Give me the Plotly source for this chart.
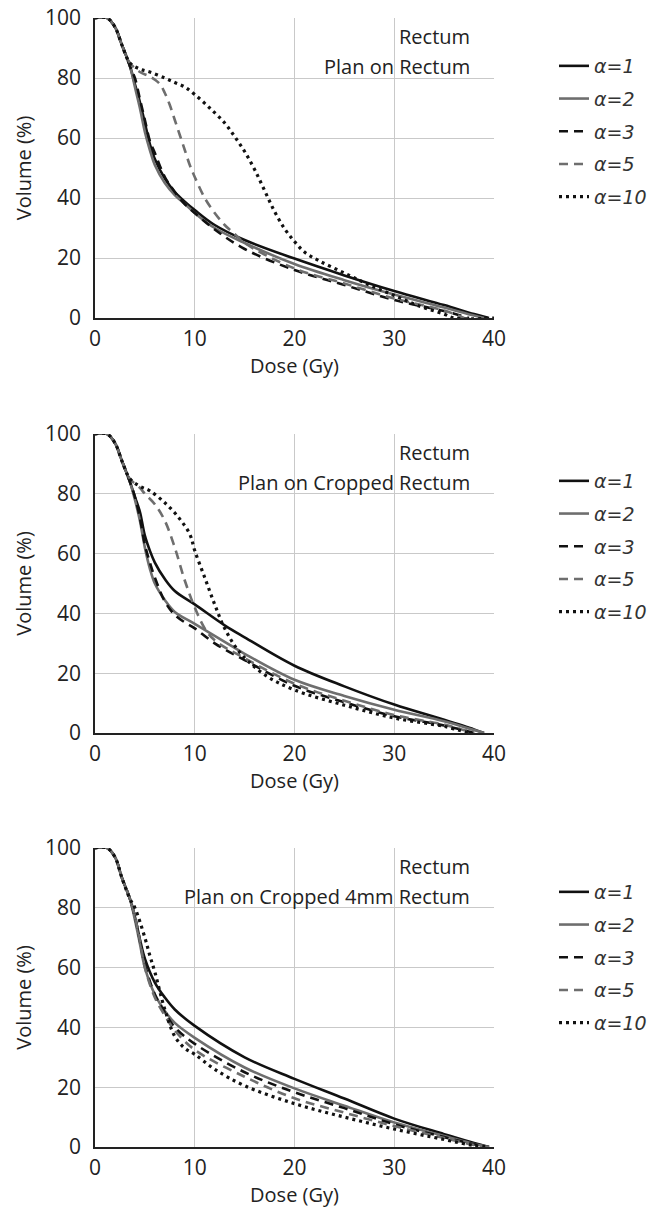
import plotly.graph_objects as go

# ---------------- data ----------------
series_names = ["α=1", "α=2", "α=3", "α=5", "α=10"]
panel_titles = ["Plan on Rectum", "Plan on Cropped Rectum", "Plan on Cropped 4mm Rectum"]
organ = "Rectum"
x_ticks = [0, 10, 20, 30, 40]
y_ticks = [0, 20, 40, 60, 80, 100]

# Panel 1: Plan on Rectum
p1_a1_dose = [0, 1.2, 2, 2.7, 3.5, 4, 4.5, 5, 5.5, 6, 7, 8, 9, 10, 12, 15, 20, 25, 30, 35, 38, 39.5]
p1_a1_vol = [100, 100, 97, 91, 84, 78, 72, 65, 58, 53, 46.5, 42, 38.8, 36, 31, 26, 19.8, 14.2, 9, 4.3, 1.3, 0]
p1_a2_dose = [0, 1.2, 2, 2.7, 3.5, 4, 4.5, 5, 5.5, 6, 7, 8, 9, 10, 12, 15, 20, 25, 30, 35, 38, 39]
p1_a2_vol = [100, 100, 97, 91, 84, 77, 70, 62, 56, 51, 45, 41, 38, 35, 30, 25, 18, 12.6, 7.8, 3.5, 0.8, 0]
p1_a3_dose = [0, 1.2, 2, 2.7, 3.5, 4, 4.5, 5, 5.5, 6, 7, 8, 9, 10, 12, 15, 20, 25, 30, 35, 37.5]
p1_a3_vol = [100, 100, 97, 91, 84, 80, 73, 66, 59, 55, 47, 42, 38, 35, 29.5, 23, 16, 11, 6, 2.3, 0]
p1_a5_dose = [0, 1.2, 2, 2.7, 3.5, 4.5, 5.5, 6.5, 7, 7.5, 8, 8.5, 9, 9.5, 10, 11, 12, 13, 14, 15, 20, 25, 30, 35, 37]
p1_a5_vol = [100, 100, 97, 91, 85, 82, 80.5, 78, 75, 71, 66, 61, 56, 51, 47, 40, 35, 31, 28, 25, 16.5, 11.5, 6.5, 2.5, 0]
p1_a10_dose = [0, 1.2, 2, 2.7, 3.5, 4.5, 5.5, 7, 8, 9, 10, 11.5, 13, 14, 15, 16, 17, 18, 19, 20, 21, 22.5, 25, 27.5, 30, 32.5, 35, 36, 40]
p1_a10_vol = [100, 100, 97, 91, 85, 83, 82, 80, 78.5, 77, 74.5, 70, 65, 60.5, 55.5, 49.5, 42.5, 35.5, 29.8, 25.5, 22, 19, 15, 11, 7.5, 4, 1.3, 0, 0]

# Panel 2: Plan on Cropped Rectum
p2_a1_dose = [0, 1.2, 2, 2.7, 3.5, 4, 4.5, 5, 5.5, 6, 7, 8, 10, 13, 15, 20, 25, 30, 35, 38, 39]
p2_a1_vol = [100, 100, 97, 91, 84, 79, 74, 66, 61, 57, 51.5, 47.5, 43, 36, 32, 22.5, 15.6, 9.5, 4.4, 1.2, 0]
p2_a2_dose = [0, 1.2, 2, 2.7, 3.5, 4, 4.5, 5, 5.5, 6, 7, 8, 10, 13, 15, 20, 25, 30, 35, 38, 39]
p2_a2_vol = [100, 100, 97, 91, 84, 78, 71, 62, 55, 50, 44.5, 40.5, 36.5, 30.5, 26.5, 17.8, 12.4, 7.8, 3.9, 1, 0]
p2_a3_dose = [0, 1.2, 2, 2.7, 3.5, 4, 4.5, 5, 5.5, 6, 7, 8, 9, 10, 12, 15, 20, 25, 30, 35, 38]
p2_a3_vol = [100, 100, 97, 91, 84, 79, 72, 63, 57, 52, 44, 39.5, 37, 35, 30, 24.4, 15.8, 10.3, 5.6, 2.5, 0]
p2_a5_dose = [0, 1.2, 2, 2.7, 3.5, 4.5, 5, 6, 7, 8, 9, 10, 11, 12, 15, 20, 25, 30, 35, 38]
p2_a5_vol = [100, 100, 97, 91, 85, 82, 80, 76.5, 71, 62, 51, 42, 35, 31, 25, 16.5, 10.8, 6, 2.8, 0]
p2_a10_dose = [0, 1.2, 2, 2.7, 3.5, 4.5, 5.5, 7, 8.4, 9.5, 10, 11, 12, 13, 14.5, 17, 20, 25, 30, 35, 37.5]
p2_a10_vol = [100, 100, 97, 91, 85, 82.5, 81, 77, 72, 66.5, 61, 52, 43, 35, 27, 19.5, 14.4, 9.3, 5, 2.2, 0]

# Panel 3: Plan on Cropped 4mm Rectum
p3_dose = [0, 1.2, 2, 2.7, 3.5, 4, 4.5, 5, 6, 7, 8, 10, 15, 20, 25, 30, 35, 38, 39.5]
p3_a1_vol = [100, 100, 97, 90, 83, 77, 69.5, 63, 55, 50, 46, 40.5, 30, 22.8, 16.2, 9.5, 4.3, 1.3, 0]
p3_a2_vol = [100, 100, 97, 90, 83, 76, 68, 60, 51, 45.5, 41.5, 36.5, 26.6, 19.6, 13.8, 8.2, 3.7, 1, 0]
p3_a3_vol = [100, 100, 97, 90, 83, 77, 69, 61, 51, 45, 40, 34.5, 25, 18.3, 13, 7.6, 3.3, 0.9, 0]
p3_a5_vol = [100, 100, 97, 90, 83, 77, 69, 60, 50, 44, 39, 32.5, 23.5, 16.3, 11.5, 7, 3, 0.7, 0]
p3_a10_dose = [0, 1.2, 2, 2.7, 3.5, 4, 5, 5.5, 6, 7, 8, 9, 10, 12, 15, 20, 25, 30, 35, 38, 39.5]
p3_a10_vol = [100, 100, 97, 90, 83, 80, 70, 64, 58.5, 46, 37, 33, 31, 26, 20.5, 14.5, 10, 6, 2.5, 0.5, 0]

panels = [
    [(p1_a1_dose, p1_a1_vol), (p1_a2_dose, p1_a2_vol), (p1_a3_dose, p1_a3_vol),
     (p1_a5_dose, p1_a5_vol), (p1_a10_dose, p1_a10_vol)],
    [(p2_a1_dose, p2_a1_vol), (p2_a2_dose, p2_a2_vol), (p2_a3_dose, p2_a3_vol),
     (p2_a5_dose, p2_a5_vol), (p2_a10_dose, p2_a10_vol)],
    [(p3_dose, p3_a1_vol), (p3_dose, p3_a2_vol), (p3_dose, p3_a3_vol),
     (p3_dose, p3_a5_vol), (p3_a10_dose, p3_a10_vol)],
]

# ---------------- styles ----------------
styles = [
    dict(color="#111111", dash="solid", width=2.6),
    dict(color="#6e6e6e", dash="solid", width=2.6),
    dict(color="#111111", dash="9px,6px", width=2.6),
    dict(color="#6e6e6e", dash="9px,6px", width=2.6),
    dict(color="#111111", dash="3px,4px", width=3.2),
]

W, H = 664, 1209
x0_px, x1_px = 95, 494
panel_px = [(18, 318), (434, 733), (848, 1147)]
legend_top_px = [47, 462, 873]

fig = go.Figure()
font_main = "Open Sans, Noto Sans, sans-serif"
txt_color = "#222222"

for p, series in enumerate(panels):
    sfx = "" if p == 0 else str(p + 1)
    leg = "legend" + sfx
    for i, (d, v) in enumerate(series):
        st = styles[i]
        fig.add_trace(go.Scatter(
            x=d, y=v, mode="lines", name=series_names[i],
            line=dict(color=st["color"], dash=st["dash"], width=st["width"],
                      shape="spline", smoothing=1.0),
            xaxis="x" + sfx, yaxis="y" + sfx, legend=leg,
            legendgroup=f"p{p}_{i}", showlegend=True,
        ))
    top, bot = panel_px[p]
    axis_common = dict(
        showgrid=True, gridcolor="#c9c9c9", gridwidth=1,
        showline=True, linecolor="#222222", linewidth=1.6,
        ticks="", zeroline=False, automargin=False,
        tickfont=dict(family=font_main, size=21, color=txt_color),
    )
    fig.layout["xaxis" + sfx] = dict(
        domain=[x0_px / W, x1_px / W], range=[0, 40], tickvals=x_ticks,
        anchor="y" + sfx, fixedrange=True, ticklabelstandoff=1,
        title=dict(text="Dose (Gy)", font=dict(family=font_main, size=20, color=txt_color), standoff=4),
        **axis_common,
    )
    fig.layout["yaxis" + sfx] = dict(
        domain=[1 - bot / H, 1 - top / H], range=[0, 100], tickvals=y_ticks,
        anchor="x" + sfx, fixedrange=True, ticklabelstandoff=8,
        title=dict(text="Volume (%)", font=dict(family=font_main, size=20, color=txt_color), standoff=8),
        **axis_common,
    )
    fig.layout[leg] = dict(
        x=554 / W, xanchor="left", y=1 - legend_top_px[p] / H, yanchor="top",
        bgcolor="rgba(0,0,0,0)", tracegroupgap=5,
        font=dict(family="DejaVu Sans, sans-serif", size=19, color="#333333", style="italic"),
    )
    fig.add_annotation(
        x=37.8, y=93.7, xref="x" + sfx, yref="y" + sfx, text=organ, showarrow=False,
        xanchor="right", yanchor="middle",
        font=dict(family=font_main, size=20, color=txt_color),
    )
    fig.add_annotation(
        x=37.8, y=83.7, xref="x" + sfx, yref="y" + sfx, text=panel_titles[p], showarrow=False,
        xanchor="right", yanchor="middle",
        font=dict(family=font_main, size=20, color=txt_color),
    )

fig.update_layout(
    template="none",
    width=W, height=H, margin=dict(l=0, r=0, t=0, b=0, autoexpand=False),
    paper_bgcolor="white", plot_bgcolor="white",
)

fig.write_html("out.html")
